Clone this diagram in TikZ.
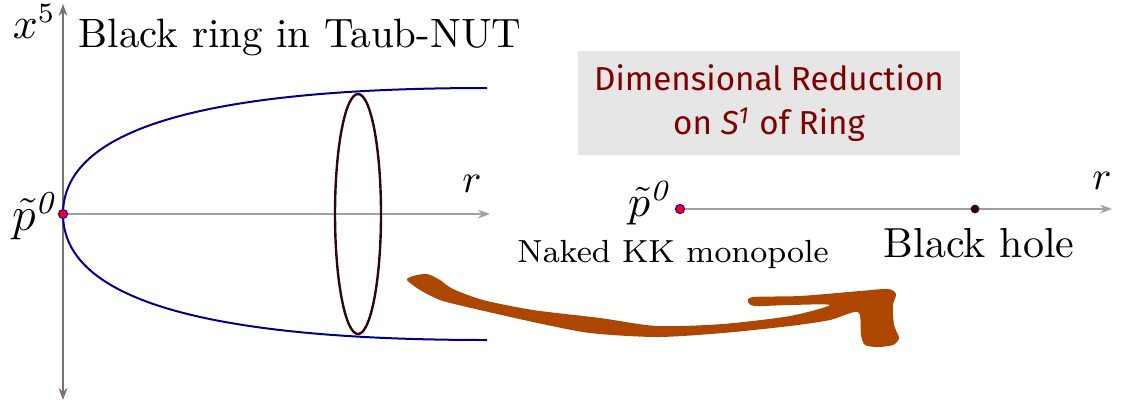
\documentclass[tikz,border=0pt]{standalone}
\usepackage{fontspec}
\newfontfamily\handfont{Fira Sans}
\usetikzlibrary{arrows.meta}
\definecolor{axisgray}{RGB}{125,112,112}
\definecolor{raxisgray}{RGB}{160,160,160}
\definecolor{ringblue}{RGB}{0,0,140}
\definecolor{ringbrown}{RGB}{45,8,8}
\definecolor{boxgray}{RGB}{230,230,230}
\definecolor{boxred}{RGB}{128,0,0}
\definecolor{arrowbrown}{RGB}{173,70,0}
\begin{document}
\begin{tikzpicture}
  [x=0.25pt,y=-0.25pt,>={Stealth[length=3pt,width=2.2pt]},
   axis/.style={line width=0.35pt,->},
   origin/.style={circle,fill=red,draw=blue,line width=0.25pt,inner sep=0pt,minimum size=2.3pt},
   hole/.style={circle,fill=ringbrown,inner sep=0pt,minimum size=2.2pt},
   lbl/.style={inner sep=0pt}]
  \useasboundingbox (0,0) rectangle (1132,408);

  % ring in Taub-NUT
  \coordinate (o) at (63,214);
  \coordinate (ytop) at (63,4);
  \coordinate (ybot) at (63,400);
  \coordinate (xend) at (490,214);
  \draw[axisgray,line width=0.35pt,<->] (ybot) -- (ytop);
  \draw[axis,raxisgray] (o) -- (xend);
  \draw[ringblue,line width=0.5pt] (487,88) .. controls (200,88) and (63,130) .. (o)
    .. controls (63,298) and (200,340) .. (487,340);
  \draw[ringbrown,line width=0.6pt] (358,214) ellipse [x radius=23,y radius=120];
  \node[origin] (p0) at (o) {};
  \node[lbl,anchor=east] (plabel) at (56,216) {\fontsize{12}{14}\selectfont$\tilde{p}^{\mathit{0}}$};
  \node[lbl] (rlabel) at (472,184) {$r$};
  \node[lbl,anchor=base west] (xfive) at (12,38) {\fontsize{10.5}{12}\selectfont$x^5$};
  \node[lbl,anchor=base west] (title) at (78,47) {\fontsize{10.25}{12}\selectfont Black ring in Taub-NUT};

  % reduced picture
  \node[fill=boxgray,minimum width=95.5pt,minimum height=23.5pt,align=center,
    text=boxred,font=\handfont\fontsize{8.3}{11}\selectfont] (reduction) at (769,103)
    {Dimensional Reduction\\on \textit{S}\textsuperscript{\textit{1}} of Ring};
  \node[origin] (mono) at (680,209) {};
  \coordinate (rend) at (1112,209);
  \draw[axis,raxisgray] (mono) -- (rend);
  \node[hole] (bh) at (975,209) {};
  \node[lbl] (rlabel2) at (1102,181) {$r$};
  \node[lbl] (plabel2) at (649,203) {\fontsize{10.5}{12}\selectfont$\tilde{p}^{\mathit{0}}$};
  \node[lbl,anchor=base] (monolabel) at (673,262) {\fontsize{8}{10}\selectfont Naked KK monopole};
  \node[lbl,anchor=base] (bhlabel) at (979,257) {\fontsize{10.5}{12}\selectfont Black hole};

  % brush arrow
  \fill[arrowbrown] plot[smooth cycle,tension=0.45] coordinates {
    (407,280) (413,276) (427,274) (440,280) (453,289) (483,300) (533,310) (600,318)
    (657,326) (723,324) (790,316) (830,305) (790,305) (755,306) (748,302) (753,297)
    (800,296) (860,291) (888,289) (896,294) (893,305) (894,325) (899,338) (893,345)
    (878,347) (865,345) (861,335) (858,312) (830,320) (790,326) (723,333) (657,337)
    (590,333) (533,322) (467,307) (440,300) (420,290)};
\end{tikzpicture}
\end{document}
